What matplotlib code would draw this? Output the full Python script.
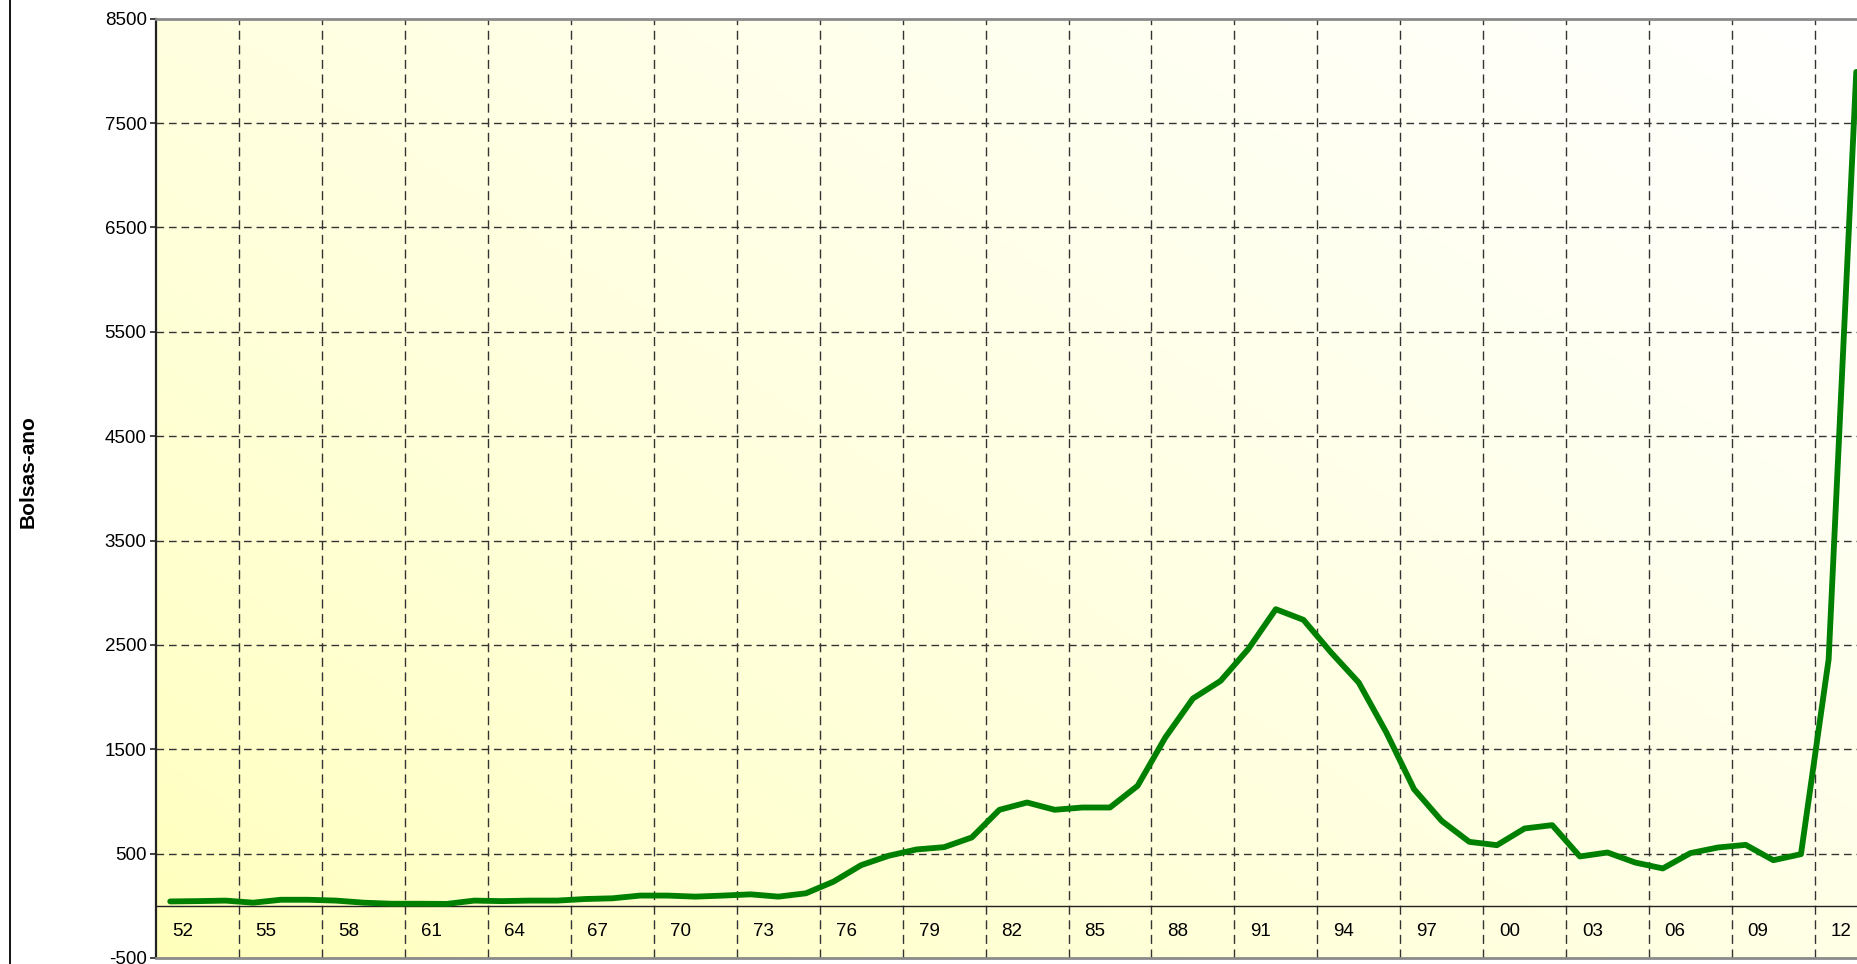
import numpy as np
import matplotlib
matplotlib.use("Agg")
import matplotlib.pyplot as plt
from matplotlib.lines import Line2D

plt.rcParams['font.family'] = ['Liberation Sans', 'DejaVu Sans']

# ---- data ----
years = [str(y)[-2:] for y in range(1952, 2014)]
values = [42, 45, 50, 30, 58, 58, 50, 30, 20, 20, 18, 50, 45, 50, 50, 65, 72, 98,
          98, 88, 98, 110, 88, 120, 232, 390, 480, 540, 562, 655, 920, 990, 920,
          942, 942, 1150, 1612, 1986, 2155, 2459, 2842, 2740, 2427, 2139, 1660,
          1118, 814, 613, 581, 741, 773, 473, 511, 415, 358, 505, 559, 584, 437,
          495, 2360, 7990]
label_every = 3
y_ticks = list(range(-500, 8501, 1000))
y_label = "Bolsas-ano"

# ---- figure ----
W, H = 1858, 964
fig = plt.figure(figsize=(W / 100, H / 100), dpi=100)
cat_w = 27.64
left_px, top_px, bottom_px = 156.4, 18.7, 958.0
n = len(values)
ax = fig.add_axes([left_px / W, (H - bottom_px) / H,
                   n * cat_w / W, (bottom_px - top_px) / H])

x = np.arange(n)
ax.set_xlim(-0.5, n - 0.5)
ax.set_ylim(-500, 8500)

# gradient background: yellow at bottom-left to white at top-right
gx, gy = np.meshgrid(np.linspace(0, 1, 300), np.linspace(0, 1, 200))
t = np.clip(0.55 * gx + 0.45 * gy, 0, 1)
t = t ** 0.75
yellow = np.array([1.0, 1.0, 0.73])
white = np.array([1.0, 1.0, 1.0])
img = yellow[None, None, :] * (1 - t[..., None]) + white[None, None, :] * t[..., None]
ax.imshow(img, extent=[0, 1, 0, 1], transform=ax.transAxes, origin='lower',
          aspect='auto', zorder=0)

# grid
for yv in y_ticks[1:-1]:
    ax.axhline(yv, color='#333333', lw=1.0, ls=(0, (5.5, 3.5)), zorder=1)
for i in range(label_every, n, label_every):
    ax.axvline(i - 0.5, color='#333333', lw=1.0, ls=(0, (6.5, 4)), zorder=1)
ax.axhline(0, color='#222222', lw=1.0, zorder=2)

# data line
ax.plot(x, values, color='#008000', lw=4.2, solid_joinstyle='round',
        solid_capstyle='round', zorder=3, clip_on=False)

# category labels
for i in range(0, n, label_every):
    ax.text(i + 0.45, -250, years[i], ha='center', va='center', fontsize=13.5,
            color='black', zorder=4)

ax.set_xticks([])
ax.set_yticks(y_ticks)
ax.set_yticklabels([str(v) for v in y_ticks], fontsize=13.5)
ax.tick_params(axis='y', direction='out', length=4.5, width=1.2, pad=2.5,
               color='#222222')

for s in ['top', 'bottom']:
    ax.spines[s].set_color('#8a8a8a')
    ax.spines[s].set_linewidth(2.0)
ax.spines['left'].set_color('#222222')
ax.spines['left'].set_linewidth(1.6)
ax.spines['right'].set_visible(False)

fig.text(28 / W, 1 - 472 / H, y_label, rotation=90, ha='center', va='center',
         fontsize=15, fontweight='bold')

fig.add_artist(Line2D([10 / W, 10 / W], [0, 1], transform=fig.transFigure,
                      color='black', lw=1.3))

fig.savefig('out.png', dpi=100)
